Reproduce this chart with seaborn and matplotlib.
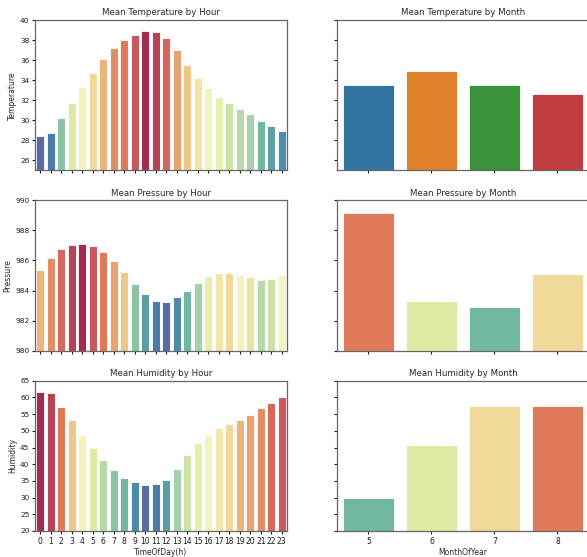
import numpy as np
import pandas as pd
import matplotlib
matplotlib.use("Agg")
import matplotlib.pyplot as plt
import seaborn as sns

sns.set_style("ticks")
plt.rcParams.update({
    'font.family': ['DejaVu Sans'],
    'font.size': 5.5,
    'axes.titlesize': 6.2,
    'axes.titlepad': 3.5,
    'axes.labelsize': 5.5,
    'axes.labelpad': 2,
    'xtick.labelsize': 5.5,
    'ytick.labelsize': 5.3,
    'axes.edgecolor': '0.4',
    'xtick.color': '0.1',
    'ytick.color': '0.1',
    'xtick.major.size': 2.5,
    'ytick.major.size': 2.5,
    'xtick.major.pad': 1.5,
    'ytick.major.pad': 1.5,
    'axes.linewidth': 0.9,
})

# hourly means
hours = [str(h) for h in range(24)]
temp_hour = [28.45, 28.75, 30.2, 31.7, 33.3, 34.75, 36.1, 37.25, 38.05, 38.5,
             38.9, 38.85, 38.25, 37.05, 35.55, 34.2, 33.2, 32.35, 31.7, 31.1,
             30.6, 29.9, 29.4, 28.9]
pres_hour = [985.4, 986.15, 986.75, 987.02, 987.13, 986.98, 986.56, 985.94, 985.21, 984.46,
             983.8, 983.33, 983.27, 983.6, 983.95, 984.53, 985.0, 985.19, 985.2, 985.04,
             984.88, 984.72, 984.77, 985.02]
hum_hour = [61.7, 61.2, 57.2, 53.1, 48.8, 44.9, 41.4, 38.3, 35.9, 34.75,
            33.86, 34.06, 35.25, 38.55, 42.8, 46.3, 48.6, 50.7, 52.1, 53.1,
            54.65, 56.75, 58.25, 60.0]

# monthly means
months = ["5", "6", "7", "8"]
temp_month = [33.47, 34.9, 33.47, 32.63]
pres_month = [989.18, 983.33, 982.91, 985.08]
hum_month = [29.9, 45.6, 57.35, 57.55]

ylims = [(25, 40), (980, 990), (20, 65)]
names = ["Temperature", "Pressure", "Humidity"]


def rank_palette(labels, values):
    pal = sns.color_palette("Spectral_r", len(values))
    rank = np.argsort(np.argsort(values))
    return {lab: pal[r] for lab, r in zip(labels, rank)}


fig, axes = plt.subplots(3, 2, figsize=(5.87, 5.57), dpi=100, sharex='col', sharey='row')
plt.subplots_adjust(left=0.0596, right=1.0034, top=0.964, bottom=0.0467, wspace=0.198, hspace=0.2)

hour_data = [temp_hour, pres_hour, hum_hour]
month_data = [temp_month, pres_month, hum_month]

for i in range(3):
    ax = axes[i, 0]
    df = pd.DataFrame({"TimeOfDay(h)": hours, names[i]: hour_data[i]})
    sns.barplot(data=df, x="TimeOfDay(h)", y=names[i], hue="TimeOfDay(h)",
                palette=rank_palette(hours, hour_data[i]), legend=False,
                edgecolor="white", linewidth=0.6, ax=ax)
    ax.set_title(f"Mean {names[i]} by Hour")
    ax.set_ylim(*ylims[i])

    ax = axes[i, 1]
    df = pd.DataFrame({"MonthOfYear": months, names[i]: month_data[i]})
    if i == 0:
        pal = dict(zip(months, sns.color_palette("tab10", 4)))
    else:
        pal = rank_palette(months, month_data[i])
    sns.barplot(data=df, x="MonthOfYear", y=names[i], hue="MonthOfYear",
                palette=pal, legend=False, edgecolor="white", linewidth=0.6, ax=ax)
    ax.set_title(f"Mean {names[i]} by Month")
    ax.set_ylabel(names[i])
    ax.tick_params(labelleft=False)

axes[0, 0].set_yticks(np.arange(26, 41, 2))
axes[1, 0].set_yticks(np.arange(980, 991, 2))
axes[2, 0].set_yticks(np.arange(20, 66, 5))

for i in range(2):
    axes[i, 0].set_xlabel("")
    axes[i, 1].set_xlabel("")
axes[2, 0].set_xlabel("TimeOfDay(h)")
axes[2, 1].set_xlabel("MonthOfYear")

plt.savefig("out.png", dpi=100)
